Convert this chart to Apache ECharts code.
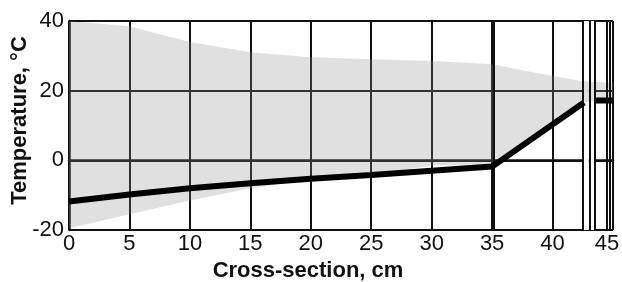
<!DOCTYPE html>
<html>
<head>
<meta charset="utf-8">
<script src="https://cdn.jsdelivr.net/npm/echarts@6/dist/echarts.min.js"></script>
<style>
  html, body { margin: 0; padding: 0; background: #fff; }
  #chart { width: 622px; height: 282px; }
</style>
</head>
<body>
<div id="chart"></div>
<script>
// temperature profile across the wall (cm, degC); null = hidden behind the layer gap
const profileX = [0, 5, 10, 15, 20, 25, 30, 35, 42.6, 43.0, 43.6, 45];
const profileT = [-11.8, -9.8, -8.0, -6.6, -5.3, -4.2, -3.0, -1.8, 16.6, null, 17.2, 17.2];

// shaded band (upper and lower edge)
const bandX = [0, 5, 10, 15, 20, 25, 30, 35, 38, 42.5, 43.6, 45];
const bandHigh = [40, 38.5, 34, 31, 29.6, 29, 28.5, 27.6, 25.5, 22.7, 22.5, 22.3];
const bandLow = [-19.5, -15.5, -11.5, -8, -5.5, -4.2, -1.5, -1.5, 5, 16.6, 17, 17];

// layer boundaries drawn as extra vertical lines
const layerLines = [35.1, 42.5, 43.05, 43.5, 44.5, 44.75];

const xTicks = [0, 5, 10, 15, 20, 25, 30, 35, 40, 45];
const yTicks = [-20, 0, 20, 40];

const chart = echarts.init(document.getElementById('chart'));

const fontFamily = '"Liberation Sans", Arial, sans-serif';

chart.setOption({
  animation: false,
  backgroundColor: '#fff',
  grid: { left: 69, right: 9, top: 21, bottom: 52, containLabel: false, outerBoundsMode: 'none' },
  xAxis: {
    type: 'value',
    min: 0,
    max: 45,
    interval: 5,
    name: 'Cross-section, cm',
    nameLocation: 'middle',
    nameGap: 29,
    nameTextStyle: {
      fontFamily: fontFamily, fontWeight: 'bold', fontSize: 22, color: '#111',
      padding: [0, 66, 0, 0]
    },
    axisLine: { lineStyle: { color: '#111', width: 2.5 } },
    axisTick: { show: false },
    axisLabel: {
      margin: 3, fontFamily: fontFamily, fontSize: 22, color: '#111',
      formatter: v => v === 45 ? '{last|45}' : (xTicks.includes(v) ? String(v) : ''),
      rich: {
        last: { fontFamily: fontFamily, fontSize: 22, color: '#111', padding: [0, 12, 0, 0] }
      }
    },
    splitLine: { show: true, lineStyle: { color: '#111', width: 2 } }
  },
  yAxis: {
    type: 'value',
    min: -20,
    max: 40,
    interval: 20,
    name: 'Temperature, °C',
    nameLocation: 'middle',
    nameGap: 38,
    nameMoveOverlap: false,
    nameTextStyle: {
      fontFamily: fontFamily, fontWeight: 'bold', fontSize: 22, color: '#111',
      padding: [0, 0, 0, 10]
    },
    axisLine: { show: true, lineStyle: { color: '#111', width: 2.5 } },
    axisTick: { show: false },
    axisLabel: {
      margin: 5, fontFamily: fontFamily, fontSize: 22, color: '#111',
      formatter: v => yTicks.includes(v) ? String(v) : ''
    },
    splitLine: { show: true, lineStyle: { color: '#111', width: 2 } }
  },
  series: [
    {
      type: 'custom',
      coordinateSystem: 'cartesian2d',
      silent: true,
      z: 1,
      data: [[0, 0]],
      renderItem: function (params, api) {
        const pts = [];
        bandX.forEach((x, i) => pts.push(api.coord([x, bandHigh[i]])));
        for (let i = bandX.length - 1; i >= 0; i--) pts.push(api.coord([bandX[i], bandLow[i]]));
        return {
          type: 'polygon',
          shape: { points: pts },
          style: { fill: 'rgba(140,140,140,0.27)' }
        };
      }
    },
    {
      type: 'line',
      data: profileX.map((x, i) => [x, profileT[i]]),
      connectNulls: false,
      showSymbol: false,
      z: 5,
      lineStyle: { color: '#000', width: 6, cap: 'butt' },
      markLine: {
        silent: true,
        symbol: 'none',
        label: { show: false },
        lineStyle: { color: '#111', width: 2, type: 'solid' },
        data: layerLines.map(x => ({ xAxis: x }))
      }
    },
    {
      // white gap between layers hides band and profile
      type: 'line',
      data: [],
      markArea: {
        silent: true,
        itemStyle: { color: '#fff' },
        data: [[{ xAxis: 42.55 }, { xAxis: 43.0 }], [{ xAxis: 43.1 }, { xAxis: 43.45 }]]
      },
      z: 6
    }
  ]
});
</script>
</body>
</html>
